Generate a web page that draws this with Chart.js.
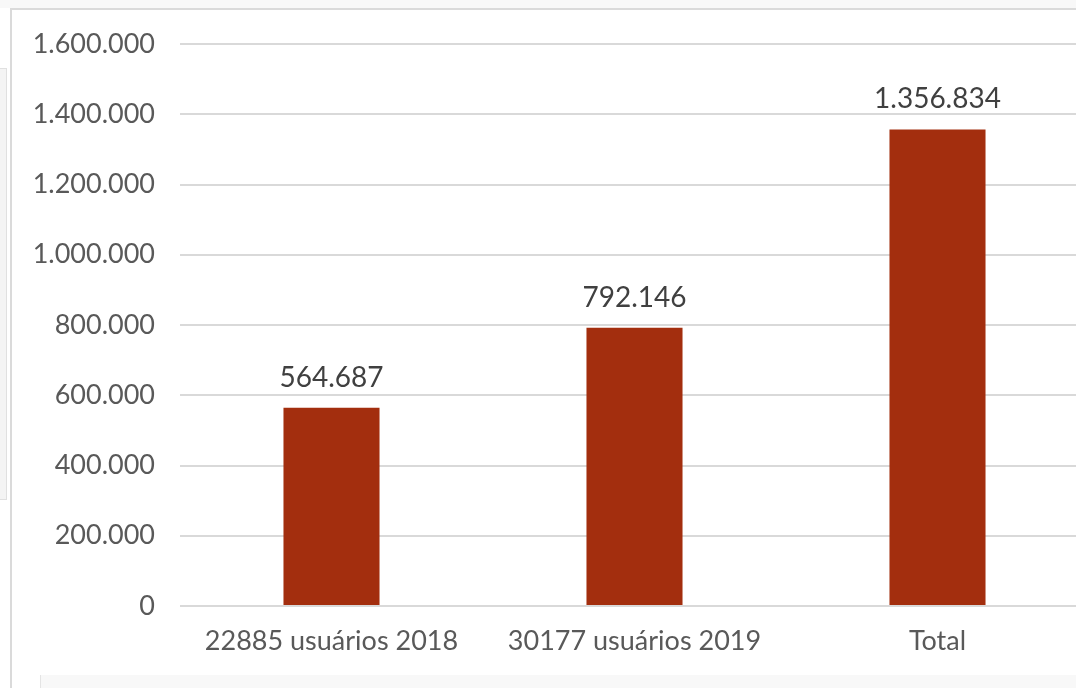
<!DOCTYPE html>
<html>
<head>
<meta charset="utf-8">
<script src="https://cdn.jsdelivr.net/npm/chart.js@4/dist/chart.umd.min.js"></script>
<style>
  html, body { margin: 0; padding: 0; background: #fff; overflow: hidden; }
  body { width: 1076px; height: 688px; position: relative; }
  #topstrip { position: absolute; left: 0; top: 0; width: 1076px; height: 8px; background: #f8f8f8; }
  #topline { position: absolute; left: 10px; top: 8px; width: 1066px; height: 2px; background: #dadada; }
  #leftline { position: absolute; left: 10px; top: 8px; width: 2px; height: 680px; background: #dadada; }
  #sidebox { position: absolute; left: 0; top: 68px; width: 6px; height: 430px; border: 1px solid #e0e0e0; border-left: none; background: #f4f4f4; }
  #bottomstrip { position: absolute; left: 40px; top: 675px; width: 1036px; height: 13px; background: #f8f8f8; border-left: 1px solid #e4e4e4; }
  #wrap { position: absolute; left: 0; top: 0; width: 1100px; height: 688px; }
</style>
</head>
<body>
<div id="topstrip"></div>
<div id="topline"></div>
<div id="leftline"></div>
<div id="sidebox"></div>
<div id="bottomstrip"></div>
<div id="wrap"><canvas id="grafico"></canvas></div>
<script>
const categorias = ['22885 usuários 2018', '30177 usuários 2019', 'Total']
const valores = [564687, 792146, 1356834]
const yMin = 0
const yMax = 1600000
const yPasso = 200000

const fonte = 'Lato, "DejaVu Sans", sans-serif'
const fmt = v => v.toLocaleString('de-DE')

// rotulos de valor acima das barras
const rotulos = {
  id: 'rotulos',
  afterDatasetsDraw(chart) {
    const ctx = chart.ctx
    const meta = chart.getDatasetMeta(0)
    ctx.save()
    ctx.font = '28px ' + fonte
    ctx.fillStyle = '#404040'
    ctx.textAlign = 'center'
    ctx.textBaseline = 'alphabetic'
    meta.data.forEach((bar, i) => {
      ctx.fillText(fmt(valores[i]), bar.x, bar.y - 21)
    })
    ctx.restore()
  }
}

const ctx = document.getElementById('grafico').getContext('2d')
new Chart(ctx, {
  type: 'bar',
  data: {
    labels: categorias,
    datasets: [{
      data: valores,
      backgroundColor: '#a32e0e',
      barPercentage: 0.317,
      categoryPercentage: 1
    }]
  },
  options: {
    responsive: true,
    maintainAspectRatio: false,
    animation: false,
    layout: { padding: { top: 44, right: 11, left: 0, bottom: 0 } },
    plugins: {
      legend: { display: false },
      tooltip: { enabled: false }
    },
    scales: {
      x: {
        grid: { display: false },
        border: { display: false },
        ticks: {
          color: '#595959',
          font: { size: 27, family: fonte },
          padding: 11
        },
        afterFit(axis) { axis.height = 82 }
      },
      y: {
        min: yMin,
        max: yMax,
        ticks: {
          stepSize: yPasso,
          color: '#595959',
          font: { size: 27, family: fonte },
          padding: 25,
          callback: v => fmt(v)
        },
        grid: { color: '#d9d9d9', lineWidth: 2, drawTicks: false },
        border: { display: false },
        afterFit(axis) { axis.width = 180 }
      }
    }
  },
  plugins: [rotulos]
})
</script>
</body>
</html>
